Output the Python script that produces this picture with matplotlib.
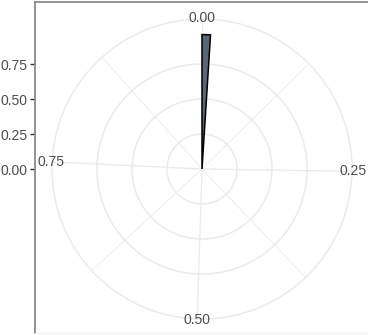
import numpy as np
import matplotlib
matplotlib.use("Agg")
import matplotlib.pyplot as plt

# ---- data ----
bar_start = [0.0]
bar_width = [0.01]
bar_height = [0.96]
theta_breaks = [0.00, 0.25, 0.50, 0.75]
theta_labels = ["0.00", "0.25", "0.50", "0.75"]
theta_minor = [0.125, 0.375, 0.625, 0.875]
r_breaks = [0.00, 0.25, 0.50, 0.75]
r_labels = ["0.00", "0.25", "0.50", "0.75"]
theta_period = 0.99
r_max = 150 / 140

W, H = 368, 335
fig = plt.figure(figsize=(W / 100, H / 100), dpi=100)
plt.rcParams['font.family'] = ['Liberation Sans', 'DejaVu Sans']

grid_col = "#ebebeb"
text_col = "#4d4d4d"

cx, cy, R = 202, 169, 150

# Cartesian axes for the left axis and panel border
panel_top, panel_bot, panel_left = 2, 333, 35
ax2 = fig.add_axes([panel_left / W, 1 - panel_bot / H, (W - panel_left) / W, (panel_bot - panel_top) / H])
scale = 140.0  # px per unit
ax2.set_ylim(-(panel_bot - cy) / scale, (cy - panel_top) / scale)
ax2.set_xlim(0, 1)
ax2.set_xticks([])
ax2.set_yticks(r_breaks)
ax2.set_yticklabels(r_labels)
ax2.tick_params(axis='y', length=3.5, width=1.0, color="#333333", labelcolor=text_col,
                labelsize=10, pad=2)
ax2.spines['left'].set_color("#8a8a8a")
ax2.spines['left'].set_linewidth(1.3)
ax2.spines['top'].set_color("#8a8a8a")
ax2.spines['top'].set_linewidth(1.3)
ax2.spines['bottom'].set_color("#f0f0f0")
ax2.spines['bottom'].set_linewidth(1.0)
ax2.spines['right'].set_visible(False)
ax2.patch.set_alpha(0)
ax2.set_zorder(0)

# Polar axes
ax = fig.add_axes([(cx - R) / W, 1 - (cy + R) / H, 2 * R / W, 2 * R / H], projection='polar')
ax.set_zorder(1)
ax.patch.set_alpha(0)
ax.set_theta_zero_location('N')
ax.set_theta_direction(-1)
ax.set_ylim(0, r_max)
ax.grid(False)
ax.set_xticks([])
ax.set_yticks([])
ax.spines['polar'].set_color(grid_col)
ax.spines['polar'].set_linewidth(1.1)

to_ang = lambda v: 2 * np.pi * np.asarray(v) / theta_period

# circles
tt = np.linspace(0, 2 * np.pi, 400)
for r in r_breaks[1:]:
    ax.plot(tt, np.full_like(tt, r), color=grid_col, lw=1.1, zorder=1)
# spokes
for v in theta_breaks:
    ax.plot([to_ang(v)] * 2, [0, r_max], color=grid_col, lw=1.0, zorder=1)
for v in theta_minor:
    ax.plot([to_ang(v)] * 2, [0, r_max], color=grid_col, lw=0.6, zorder=1)

# theta labels
for v, lab in zip(theta_breaks, theta_labels):
    ax.text(to_ang(v), 1.08, lab, ha='center', va='center', fontsize=10, color=text_col, zorder=3)

# bar
ax.bar(to_ang(bar_start), bar_height, width=to_ang(bar_width), align='edge',
       color="#5b6676", edgecolor="black", linewidth=1.1, zorder=2)

fig.savefig("out.png", dpi=100)
